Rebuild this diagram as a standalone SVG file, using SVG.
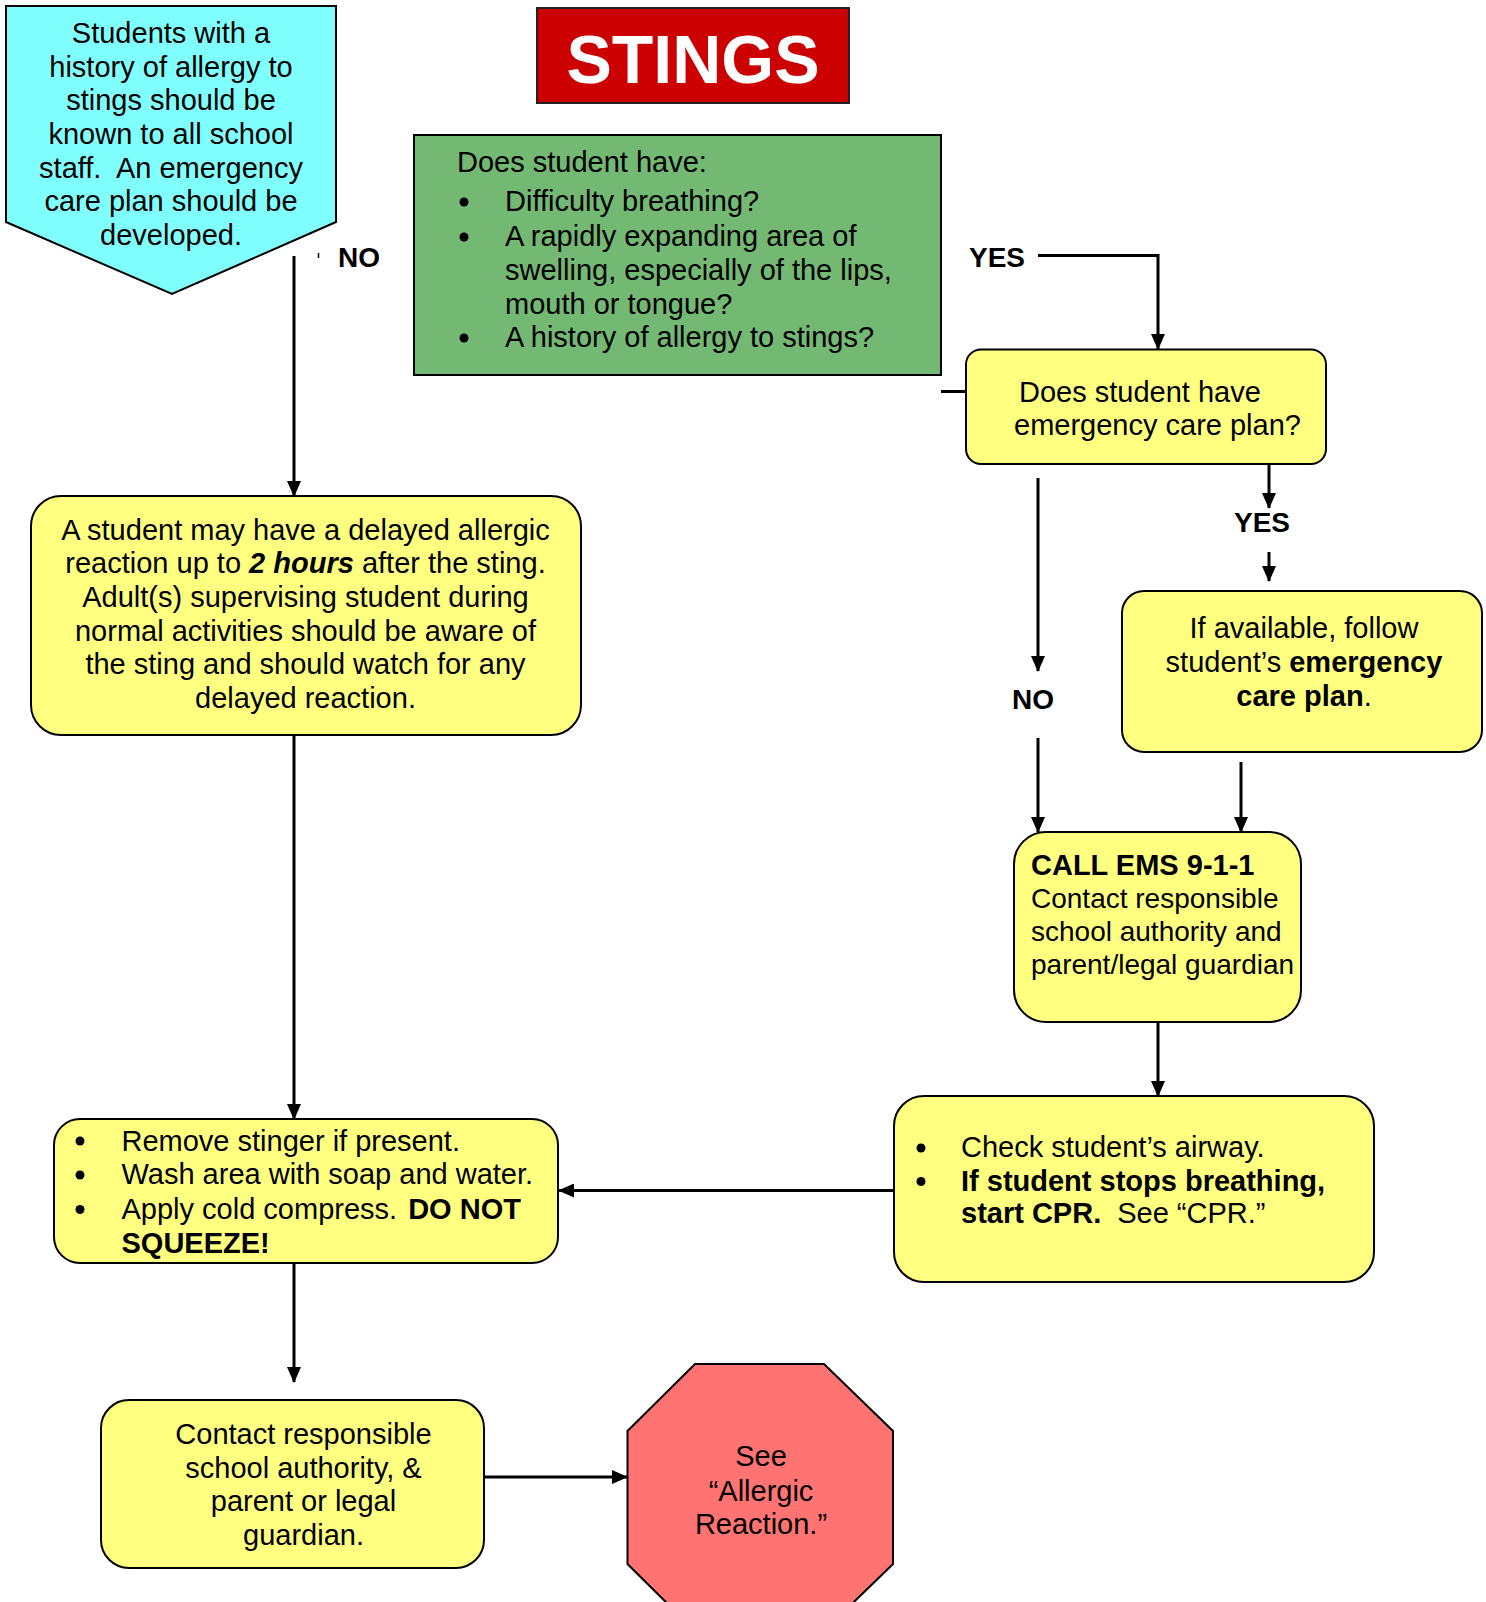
<svg xmlns="http://www.w3.org/2000/svg" width="1486" height="1602" viewBox="0 0 1486 1602">
  <style>
    text { font-family: "Liberation Sans", Arial, sans-serif; font-size: 29px; fill: #000; }
    .c { text-anchor: middle; }
    .b { font-weight: bold; }
    .lbl { font-weight: bold; font-size: 28px; }
    .box { fill: #FFFF80; stroke: #000; stroke-width: 2; }
    .wire { fill: none; stroke: #000; stroke-width: 3; }
    .arrow { fill: none; stroke: #000; stroke-width: 3; marker-end: url(#head); }
  </style>
  <defs>
    <marker id="head" markerUnits="userSpaceOnUse" markerWidth="16" markerHeight="14" refX="15" refY="7" orient="auto">
      <path d="M0,0 L16,7 L0,14 Z" fill="#000"/>
    </marker>
  </defs>

  <rect width="1486" height="1602" fill="#fff"/>

  <!-- connectors -->
  <g id="connectors">
    <line class="arrow" x1="294" y1="256" x2="294" y2="496"/>
    <path class="arrow" d="M1038,255.5 H1158 V349"/>
    <line class="wire" x1="941" y1="391.5" x2="966" y2="391.5"/>
    <line class="arrow" x1="1269" y1="464" x2="1269" y2="508"/>
    <line class="arrow" x1="1269" y1="552" x2="1269" y2="581"/>
    <line class="arrow" x1="1038" y1="478" x2="1038" y2="671"/>
    <line class="arrow" x1="1038" y1="738" x2="1038" y2="832"/>
    <line class="arrow" x1="1241" y1="762" x2="1241" y2="832"/>
    <line class="arrow" x1="1158" y1="1022" x2="1158" y2="1096"/>
    <line class="arrow" x1="894" y1="1190.5" x2="559" y2="1190.5"/>
    <line class="arrow" x1="294" y1="735" x2="294" y2="1119"/>
    <line class="arrow" x1="294" y1="1263" x2="294" y2="1382"/>
    <line class="arrow" x1="484" y1="1477" x2="627" y2="1477"/>
    <line x1="318.5" y1="253" x2="318.5" y2="258" stroke="#000" stroke-width="1.5"/>
    <text class="lbl" x="338" y="267">NO</text>
    <text class="lbl" x="969" y="267">YES</text>
    <text class="lbl c" x="1262" y="532">YES</text>
    <text class="lbl c" x="1033" y="709">NO</text>
  </g>

  <!-- known-allergy note -->
  <g id="allergy-note">
    <path d="M6,6 H336 V222 L172,294 L6,222 Z" fill="#80FFFF" stroke="#000" stroke-width="2"/>
    <text class="c" x="171" y="43">Students with a</text>
    <text class="c" x="171" y="76.5">history of allergy to</text>
    <text class="c" x="171" y="110">stings should be</text>
    <text class="c" x="171" y="144">known to all school</text>
    <text class="c" x="171" y="177.5" xml:space="preserve">staff.  An emergency</text>
    <text class="c" x="171" y="211">care plan should be</text>
    <text class="c" x="171" y="244.5">developed.</text>
  </g>

  <!-- title -->
  <g id="title">
    <rect x="537" y="8" width="312" height="95" fill="#CC0000" stroke="#222" stroke-width="2"/>
    <text class="c b" x="693" y="83" style="font-size:68px; fill:#fff">STINGS</text>
  </g>

  <!-- initial question -->
  <g id="symptoms">
    <rect x="414" y="135" width="527" height="240" fill="#73B873" stroke="#000" stroke-width="2"/>
    <text x="457" y="171.5">Does student have:</text>
    <circle cx="464" cy="202" r="4.5"/>
    <text x="505" y="211">Difficulty breathing?</text>
    <circle cx="464" cy="237" r="4.5"/>
    <text x="505" y="246">A rapidly expanding area of</text>
    <text x="505" y="280">swelling, especially of the lips,</text>
    <text x="505" y="313.5">mouth or tongue?</text>
    <circle cx="464" cy="338" r="4.5"/>
    <text x="505" y="347">A history of allergy to stings?</text>
  </g>

  <!-- care plan question -->
  <g id="care-plan-question">
    <rect class="box" x="966" y="349.5" width="360" height="114.5" rx="15"/>
    <text x="1019" y="401.5">Does student have</text>
    <text x="1014" y="435">emergency care plan?</text>
  </g>

  <!-- follow care plan -->
  <g id="follow-plan">
    <rect class="box" x="1122" y="591" width="360" height="161" rx="22"/>
    <text class="c" x="1304" y="637.5">If available, follow</text>
    <text class="c" x="1304" y="672">student’s <tspan class="b">emergency</tspan></text>
    <text class="c" x="1304" y="706"><tspan class="b">care plan</tspan>.</text>
  </g>

  <!-- delayed reaction -->
  <g id="delayed-reaction">
    <rect class="box" x="31" y="496" width="550" height="239" rx="30"/>
    <text class="c" x="305.5" y="539.5">A student may have a delayed allergic</text>
    <text class="c" x="305.5" y="573">reaction up to <tspan class="b" font-style="italic">2 hours</tspan> after the sting.</text>
    <text class="c" x="305.5" y="607">Adult(s) supervising student during</text>
    <text class="c" x="305.5" y="641">normal activities should be aware of</text>
    <text class="c" x="305.5" y="674">the sting and should watch for any</text>
    <text class="c" x="305.5" y="708">delayed reaction.</text>
  </g>

  <!-- call EMS -->
  <g id="call-ems">
    <rect class="box" x="1014" y="832" width="287" height="190" rx="32"/>
    <text class="b" x="1031" y="874.5">CALL EMS 9-1-1</text>
    <text x="1031" y="907.5" style="font-size:28px">Contact responsible</text>
    <text x="1031" y="941" style="font-size:28px">school authority and</text>
    <text x="1031" y="974" style="font-size:28px">parent/legal guardian</text>
  </g>

  <!-- airway check -->
  <g id="airway">
    <rect class="box" x="894" y="1096" width="480" height="186" rx="30"/>
    <circle cx="921" cy="1148" r="4.5"/>
    <text x="961" y="1157">Check student’s airway.</text>
    <circle cx="921" cy="1181.5" r="4.5"/>
    <text class="b" x="961" y="1190.5">If student stops breathing,</text>
    <text x="961" y="1223"><tspan class="b">start CPR.</tspan><tspan dx="16">See “CPR.”</tspan></text>
  </g>

  <!-- first aid -->
  <g id="first-aid">
    <rect class="box" x="54" y="1119" width="504" height="144" rx="26"/>
    <circle cx="80" cy="1141" r="4.5"/>
    <text x="121.5" y="1150.5">Remove stinger if present.</text>
    <circle cx="80" cy="1175" r="4.5"/>
    <text x="121.5" y="1184">Wash area with soap and water.</text>
    <circle cx="80" cy="1209.5" r="4.5"/>
    <text x="121.5" y="1219">Apply cold compress. <tspan class="b" dx="3">DO NOT</tspan></text>
    <text class="b" x="121.5" y="1253">SQUEEZE!</text>
  </g>

  <!-- contact -->
  <g id="contact">
    <rect class="box" x="101" y="1400" width="383" height="168" rx="28"/>
    <text class="c" x="303.5" y="1444">Contact responsible</text>
    <text class="c" x="303.5" y="1477.5">school authority, &amp;</text>
    <text class="c" x="303.5" y="1511">parent or legal</text>
    <text class="c" x="303.5" y="1545">guardian.</text>
  </g>

  <!-- reference stop sign -->
  <g id="allergic-reaction">
    <path d="M695,1364 H824 L893,1431 V1564 L824,1631 H695 L627.5,1564 V1431 Z" fill="#FF7373" stroke="#000" stroke-width="2"/>
    <text class="c" x="761" y="1466">See</text>
    <text class="c" x="761" y="1501">“Allergic</text>
    <text class="c" x="761" y="1534">Reaction.”</text>
  </g>
</svg>
